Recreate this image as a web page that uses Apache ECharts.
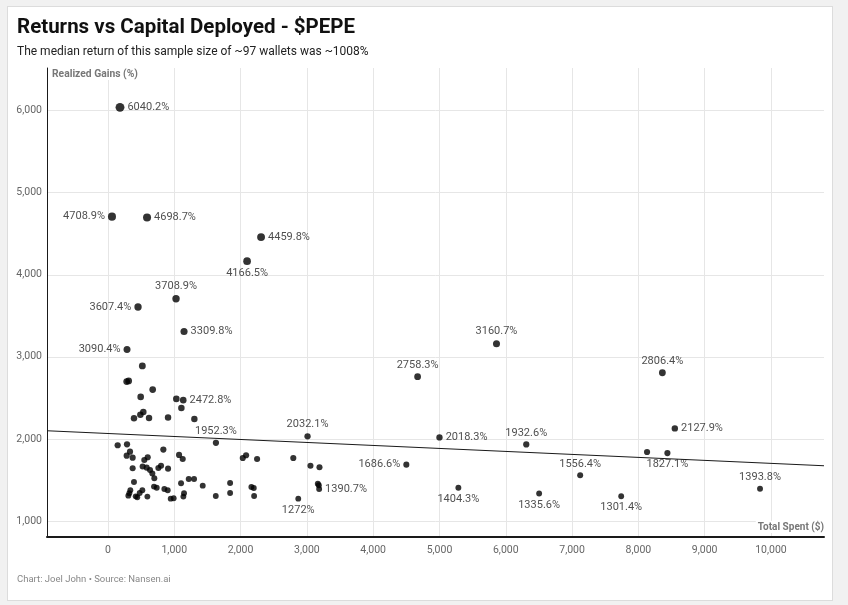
<!DOCTYPE html>
<html>
<head>
<meta charset="utf-8">
<script src="https://cdn.jsdelivr.net/npm/echarts@6/dist/echarts.min.js"></script>
<style>
html,body{margin:0;padding:0;background:#f1f1f1;width:848px;height:605px;overflow:hidden;}
#panel{position:absolute;left:7px;top:6px;width:824px;height:593px;background:#fff;border:1px solid #dcdcdc;}
#chart{position:absolute;left:0;top:0;width:848px;height:605px;}
</style>
</head>
<body>
<div id="panel"></div>
<div id="chart"></div>
<script>
// Labeled wallets: total spent ($) and realized gains (%)
const labeledX = [181, 60, 589, 2309, 2098, 1026, 453, 1147, 287, 1135, 1628, 3010, 3185, 2870, 4670, 5860, 5000, 4500, 5285, 6309, 6503, 7122, 7741, 8362, 8550, 8438, 9835];
const labeledY = [6040.2, 4708.9, 4698.7, 4459.8, 4166.5, 3708.9, 3607.4, 3309.8, 3090.4, 2472.8, 1952.3, 2032.1, 1390.7, 1272, 2758.3, 3160.7, 2018.3, 1686.6, 1404.3, 1932.6, 1335.6, 1556.4, 1301.4, 2806.4, 2127.9, 1827.1, 1393.8];
const labelPlacement = ['right','left','right','right','bottom','top','left','right','left','right','top','top','right','bottom','top','top','right','left','bottom','top','bottom','top','bottom','top','right','bottom','top'];

// Unlabeled wallets
const otherX = [518, 282, 312, 674, 493, 1031, 1107, 488, 533, 392, 619, 906, 1303, 146, 287, 282, 332, 372, 548, 599, 835, 1072, 1127, 2033, 2083, 2249, 2795, 372, 523, 584, 634, 669, 699, 760, 800, 906, 3054, 3190, 392, 1102, 1218, 1298, 1429, 1842, 2163, 2199, 694, 735, 850, 901, 337, 518, 478, 307, 418, 442, 594, 946, 991, 1147, 1137, 1626, 1842, 2204, 3165, 3180, 8131, 322];
const otherY = [2890, 2699, 2707, 2601, 2512, 2488, 2378, 2296, 2329, 2252, 2256, 2260, 2244, 1923, 1935, 1796, 1845, 1772, 1744, 1777, 1870, 1805, 1756, 1768, 1801, 1756, 1768, 1643, 1665, 1650, 1622, 1578, 1520, 1646, 1674, 1638, 1674, 1655, 1476, 1460, 1512, 1512, 1431, 1463, 1415, 1402, 1419, 1406, 1390, 1374, 1374, 1374, 1341, 1309, 1301, 1289, 1297, 1272, 1277, 1338, 1297, 1305, 1341, 1305, 1455, 1435, 1841, 1338];

// Trend line endpoints
const trendX = [-920, 10800];
const trendY = [2100, 1673];

// Axis ticks
const xTicks = [0, 1000, 2000, 3000, 4000, 5000, 6000, 7000, 8000, 9000, 10000];
const yTicks = [1000, 2000, 3000, 4000, 5000, 6000];

const FONT = 'Roboto, "Noto Sans", sans-serif';
const dotSize = v => 5 + v[1] / 1550;

const chart = echarts.init(document.getElementById('chart'), null, {renderer: 'canvas'});

const labeledData = labeledX.map((x, i) => ({
  value: [x, labeledY[i]],
  label: {position: labelPlacement[i]}
}));
const otherData = otherX.map((x, i) => [x, otherY[i]]);
const trendData = trendX.map((x, i) => [x, trendY[i]]);

chart.setOption({
  backgroundColor: 'transparent',
  animation: false,
  textStyle: {fontFamily: FONT},
  grid: {left: 47, right: 24, top: 68, bottom: 68, containLabel: false},
  xAxis: {
    type: 'value', min: -920, max: 10800,
    axisLine: {show: true, onZero: false, lineStyle: {color: '#1a1a1a', width: 2}},
    axisTick: {show: false, customValues: xTicks},
    axisLabel: {customValues: xTicks, color: '#666', fontSize: 10.5, margin: 8, fontFamily: FONT,
      formatter: v => v.toLocaleString('en-US')},
    splitLine: {show: true, lineStyle: {color: '#e6e6e6', width: 1}}
  },
  yAxis: {
    type: 'value', min: 805, max: 6520,
    axisLine: {show: true, onZero: false, lineStyle: {color: '#1a1a1a', width: 1}},
    axisTick: {show: false, customValues: yTicks},
    axisLabel: {customValues: yTicks, color: '#666', fontSize: 10.5, margin: 5, fontFamily: FONT,
      formatter: v => v.toLocaleString('en-US')},
    splitLine: {show: true, lineStyle: {color: '#e6e6e6', width: 1}}
  },
  series: [
    {
      type: 'line', data: trendData, symbol: 'none', z: 3,
      lineStyle: {color: '#1a1a1a', width: 1.2}
    },
    {
      type: 'scatter', data: otherData, symbolSize: dotSize, z: 4,
      itemStyle: {color: '#000'}
    },
    {
      type: 'scatter', data: labeledData, symbolSize: dotSize, z: 5,
      itemStyle: {color: '#000'},
      label: {show: true, distance: 3, color: '#222', fontSize: 11, fontFamily: FONT,
        formatter: p => p.value[1] + '%'}
    }
  ],
  graphic: [
    {type: 'text', left: 17, top: 17, z: 100, style: {text: 'Returns vs Capital Deployed - $PEPE', font: 'bold 20.5px ' + FONT, fill: '#111'}},
    {type: 'text', left: 17, top: 46, z: 100, style: {text: 'The median return of this sample size of ~97 wallets was ~1008%', font: '12px ' + FONT, fill: '#222'}},
    {type: 'text', left: 50, top: 68, z: 100, style: {text: 'Realized Gains (%)', font: 'bold 10.3px ' + FONT, fill: '#777', backgroundColor: '#fff', padding: [1, 2]}},
    {type: 'text', right: 22, top: 521, z: 100, style: {text: 'Total Spent ($)', font: 'bold 10px ' + FONT, fill: '#777', backgroundColor: '#fff', padding: [1, 2]}},
    {type: 'text', left: 17, top: 575, z: 100, style: {text: 'Chart: Joel John \u2022 Source: Nansen.ai', font: '9.5px ' + FONT, fill: '#888'}}
  ]
});
</script>
</body>
</html>
